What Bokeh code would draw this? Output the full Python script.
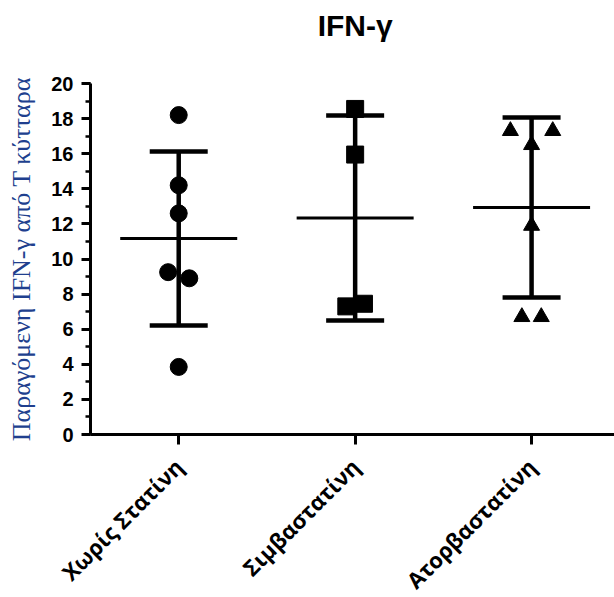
import math
import numpy as np
from bokeh.plotting import figure
from bokeh.models import FixedTicker, Whisker, ColumnDataSource, Range1d
from bokeh.core.properties import value
from bokeh.embed import file_html
from bokeh.resources import INLINE

# ---- data ----
title_text = "IFN-γ"
groups = ["Χωρίς Στατίνη", "Σιμβαστατίνη", "Ατορβαστατίνη"]
group_pos = [1, 2, 3]

no_statin = [18.2, 14.2, 12.6, 9.25, 8.9, 3.85]
no_statin_dx = [0.0, 0.0, 0.0, -0.06, 0.06, 0.0]

simva = [18.55, 15.95, 7.3, 7.45]
simva_dx = [0.0, 0.0, -0.05, 0.05]

atorva = [17.3, 17.3, 16.5, 11.9, 6.7, 6.7]
atorva_dx = [-0.12, 0.12, 0.0, 0.0, -0.055, 0.055]

means = [11.17, 12.34, 12.93]
sds = [4.96, 5.84, 5.13]

y_ticks = list(range(0, 21, 2))
y_min, y_max = 0, 20
x_min, x_max = 0.5, 3.47

# The frame covers the whole canvas; both axes are pinned to the data corner
# (x = 0.5, y = 0) and limited to the data region, so nothing gets clipped.
W, H = 614, 597
left_gap = 90             # pixels left of the y axis line
y_px_per_unit = 17.55
x_px_per_unit = (W - left_gap) / (x_max - x_min)
bottom_gap = 163          # pixels below the x axis line
top_gap = 83              # pixels above the y = 20 tick
y_lo = y_min - bottom_gap / y_px_per_unit
y_hi = y_max + top_gap / y_px_per_unit
x_lo = x_min - left_gap / x_px_per_unit

p = figure(width=W, height=H, output_backend="svg", toolbar_location=None,
           x_range=Range1d(x_lo, x_max), y_range=Range1d(y_lo, y_hi),
           min_border_left=0, min_border_right=0, min_border_top=0,
           min_border_bottom=0)

p.outline_line_color = None
p.grid.visible = False
p.background_fill_color = "white"
p.border_fill_color = "white"

# title
p.text(x=[group_pos[1]], y=[y_max + 3.3], text=[title_text],
       text_align="center", text_baseline="alphabetic",
       text_font=value("Liberation Sans"), text_font_style="bold",
       text_font_size="30px", text_color="black")

# y axis
ya = p.yaxis[0]
ya.fixed_location = x_min
ya.bounds = (y_min, y_max)
ya.ticker = FixedTicker(ticks=y_ticks, minor_ticks=list(range(y_min, y_max + 1)))
ya.axis_line_width = 3
ya.major_tick_line_width = 3
ya.minor_tick_line_width = 2.5
ya.major_tick_out = 9
ya.major_tick_in = 0
ya.minor_tick_out = 5
ya.minor_tick_in = 0
ya.major_label_text_font = "Liberation Sans"
ya.major_label_text_font_style = "bold"
ya.major_label_text_font_size = "20px"
ya.major_label_text_color = "black"
ya.major_label_standoff = 8
ya.axis_label = "Παραγόμενη IFN-γ από Τ κύτταρα"
ya.axis_label_text_font = "Liberation Serif"
ya.axis_label_text_font_style = "normal"
ya.axis_label_text_font_size = "26px"
ya.axis_label_text_color = "#203F8E"
ya.axis_label_standoff = 12

# x axis
xa = p.xaxis[0]
xa.fixed_location = y_min
xa.bounds = (x_min, x_max)
xa.ticker = FixedTicker(ticks=group_pos)
xa.major_label_overrides = {g: lab for g, lab in zip(group_pos, groups)}
xa.axis_line_width = 3
xa.major_tick_line_width = 3
xa.major_tick_out = 10
xa.major_tick_in = 0
xa.minor_tick_line_color = None
xa.major_label_orientation = math.pi / 4
xa.major_label_text_font = "Open Sans"
xa.major_label_text_font_style = "bold"
xa.major_label_text_font_size = "22px"
xa.major_label_text_color = "black"
xa.major_label_standoff = 18

# error bars (mean ± SD)
m = np.array(means)
s = np.array(sds)
src = ColumnDataSource(dict(x=group_pos, lo=m - s, hi=m + s, mean=m))
w = Whisker(source=src, base="x", lower="lo", upper="hi", dimension="height",
            line_width=4.5, line_color="black")
w.upper_head.size = 58
w.lower_head.size = 58
w.upper_head.line_width = 4.5
w.lower_head.line_width = 4.5
p.add_layout(w)

# mean lines
p.dash(x="x", y="mean", source=src, size=117, line_width=3, line_color="black")

# points
x1 = np.array(no_statin_dx) + group_pos[0]
x2 = np.array(simva_dx) + group_pos[1]
x3 = np.array(atorva_dx) + group_pos[2]
p.scatter(x1, no_statin, marker="circle", size=17, color="black")
p.scatter(x2, simva, marker="square", size=17, color="black")
p.scatter(x3, atorva, marker="triangle", size=16, color="black")

open("out.html", "w").write(file_html(p, INLINE))
